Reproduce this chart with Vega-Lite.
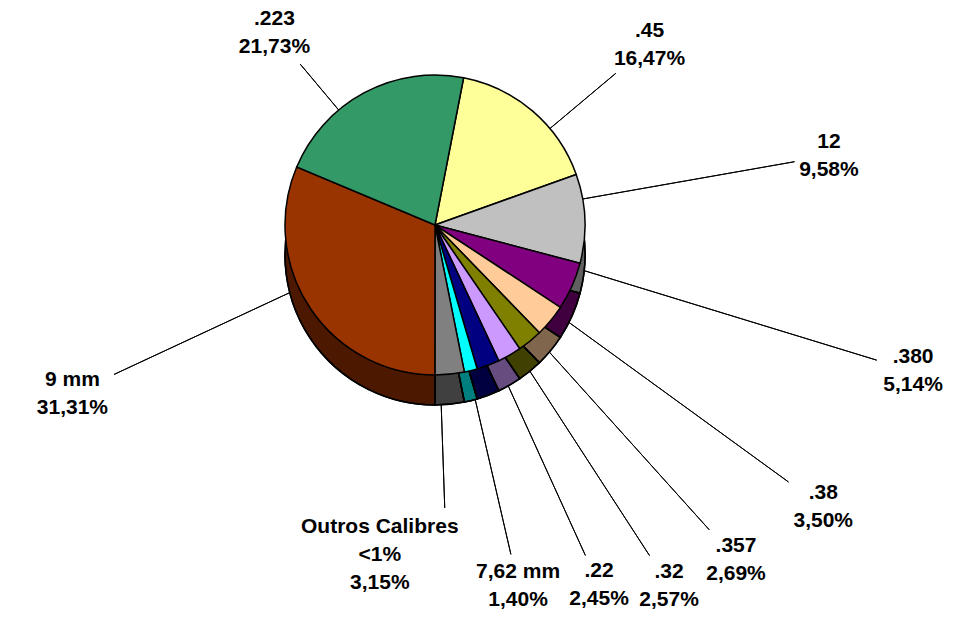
{
  "$schema": "https://vega.github.io/schema/vega-lite/v6.json",
  "width": 870,
  "height": 450,
  "autosize": {"type": "none"},
  "padding": {"left": 0, "top": 0, "right": 98, "bottom": 175},
  "background": "white",
  "config": {"view": {"stroke": null}},
  "data": {"values": [
    {"calibre": ".45", "pct": 16.47, "ordem": 1, "label": ".45\n16,47%"},
    {"calibre": "12", "pct": 9.58, "ordem": 2, "label": "12\n9,58%"},
    {"calibre": ".380", "pct": 5.14, "ordem": 3, "label": ".380\n5,14%"},
    {"calibre": ".38", "pct": 3.50, "ordem": 4, "label": ".38\n3,50%"},
    {"calibre": ".357", "pct": 2.69, "ordem": 5, "label": ".357\n2,69%"},
    {"calibre": ".32", "pct": 2.57, "ordem": 6, "label": ".32\n2,57%"},
    {"calibre": ".22", "pct": 2.45, "ordem": 7, "label": ".22\n2,45%"},
    {"calibre": "7,62 mm", "pct": 1.40, "ordem": 8, "label": "7,62 mm\n1,40%"},
    {"calibre": "Outros Calibres", "pct": 3.15, "ordem": 9, "label": "Outros Calibres\n<1%\n3,15%"},
    {"calibre": "9 mm", "pct": 31.31, "ordem": 10, "label": "9 mm\n31,31%"},
    {"calibre": ".223", "pct": 21.73, "ordem": 11, "label": ".223\n21,73%"}
  ]},
  "encoding": {
    "theta": {"field": "pct", "type": "quantitative", "stack": true, "scale": {"range": [0.192, 6.4752]}},
    "order": {"field": "ordem", "type": "quantitative"},
    "detail": {"field": "calibre", "type": "nominal"}
  },
  "layer": [
    {"mark": {"type": "arc", "radius": 236, "innerRadius": 100, "padAngle": 3.1416, "thetaOffset": 0.1632, "theta2Offset": 0.1632, "stroke": "black", "strokeWidth": 1, "fillOpacity": 0},
     "encoding": {"strokeOpacity": {"condition": {"test": "datum.calibre === '.45'", "value": 1}, "value": 0}}},
    {"mark": {"type": "arc", "radius": 365, "innerRadius": 100, "padAngle": 3.1416, "thetaOffset": -0.1314, "theta2Offset": -0.1314, "stroke": "black", "strokeWidth": 1, "fillOpacity": 0},
     "encoding": {"strokeOpacity": {"condition": {"test": "datum.calibre === '12'", "value": 1}, "value": 0}}},
    {"mark": {"type": "arc", "radius": 462, "innerRadius": 100, "padAngle": 3.1416, "thetaOffset": -0.1227, "theta2Offset": -0.1227, "stroke": "black", "strokeWidth": 1, "fillOpacity": 0},
     "encoding": {"strokeOpacity": {"condition": {"test": "datum.calibre === '.380'", "value": 1}, "value": 0}}},
    {"mark": {"type": "arc", "radius": 437, "innerRadius": 100, "padAngle": 3.1416, "thetaOffset": -0.0625, "theta2Offset": -0.0625, "stroke": "black", "strokeWidth": 1, "fillOpacity": 0},
     "encoding": {"strokeOpacity": {"condition": {"test": "datum.calibre === '.38'", "value": 1}, "value": 0}}},
    {"mark": {"type": "arc", "radius": 410, "innerRadius": 100, "padAngle": 3.1416, "thetaOffset": -0.0475, "theta2Offset": -0.0475, "stroke": "black", "strokeWidth": 1, "fillOpacity": 0},
     "encoding": {"strokeOpacity": {"condition": {"test": "datum.calibre === '.357'", "value": 1}, "value": 0}}},
    {"mark": {"type": "arc", "radius": 394, "innerRadius": 100, "padAngle": 3.1416, "thetaOffset": -0.0557, "theta2Offset": -0.0557, "stroke": "black", "strokeWidth": 1, "fillOpacity": 0},
     "encoding": {"strokeOpacity": {"condition": {"test": "datum.calibre === '.32'", "value": 1}, "value": 0}}},
    {"mark": {"type": "arc", "radius": 363, "innerRadius": 100, "padAngle": 3.1416, "thetaOffset": -0.0649, "theta2Offset": -0.0649, "stroke": "black", "strokeWidth": 1, "fillOpacity": 0},
     "encoding": {"strokeOpacity": {"condition": {"test": "datum.calibre === '.22'", "value": 1}, "value": 0}}},
    {"mark": {"type": "arc", "radius": 338, "innerRadius": 100, "padAngle": 3.1416, "thetaOffset": 0.0148, "theta2Offset": 0.0148, "stroke": "black", "strokeWidth": 1, "fillOpacity": 0},
     "encoding": {"strokeOpacity": {"condition": {"test": "datum.calibre === '7,62 mm'", "value": 1}, "value": 0}}},
    {"mark": {"type": "arc", "radius": 283, "innerRadius": 100, "padAngle": 3.1416, "thetaOffset": 0.0639, "theta2Offset": 0.0639, "stroke": "black", "strokeWidth": 1, "fillOpacity": 0},
     "encoding": {"strokeOpacity": {"condition": {"test": "datum.calibre === 'Outros Calibres'", "value": 1}, "value": 0}}},
    {"mark": {"type": "arc", "radius": 354, "innerRadius": 100, "padAngle": 3.1416, "thetaOffset": 0.1506, "theta2Offset": 0.1506, "stroke": "black", "strokeWidth": 1, "fillOpacity": 0},
     "encoding": {"strokeOpacity": {"condition": {"test": "datum.calibre === '9 mm'", "value": 1}, "value": 0}}},
    {"mark": {"type": "arc", "radius": 210, "innerRadius": 100, "padAngle": 3.1416, "thetaOffset": -0.2066, "theta2Offset": -0.2066, "stroke": "black", "strokeWidth": 1, "fillOpacity": 0},
     "encoding": {"strokeOpacity": {"condition": {"test": "datum.calibre === '.223'", "value": 1}, "value": 0}}},
    {"mark": {"type": "arc", "radius": 150, "yOffset": 30, "stroke": "black", "strokeWidth": 1.5},
     "encoding": {"color": {"field": "calibre", "type": "nominal", "legend": null,
       "scale": {"domain": [".45", "12", ".380", ".38", ".357", ".32", ".22", "7,62 mm", "Outros Calibres", "9 mm", ".223"],
                 "range": ["#FFFF99", "#C0C0C0", "#800080", "#FFCC99", "#808000", "#CC99FF", "#000080", "#00FFFF", "#808080", "#993300", "#339966"]}}}},
    {"mark": {"type": "arc", "radius": 150, "yOffset": 30, "fill": "black", "fillOpacity": 0.5, "stroke": "black", "strokeWidth": 1.5}},
    {"mark": {"type": "arc", "radius": 150, "stroke": "black", "strokeWidth": 1.5},
     "encoding": {"color": {"field": "calibre", "type": "nominal", "legend": null}}},
    {"mark": {"type": "text", "radius": 280, "thetaOffset": 0.1632, "dy": -14, "font": "Liberation Sans", "fontWeight": "bold", "fontSize": 21, "lineHeight": 28, "lineBreak": "\n", "align": "center", "baseline": "middle", "color": "black"},
     "encoding": {"text": {"field": "label", "type": "nominal"}, "opacity": {"condition": {"test": "datum.calibre === '.45'", "value": 1}, "value": 0}}},
    {"mark": {"type": "text", "radius": 400, "thetaOffset": -0.1314, "dy": -14, "font": "Liberation Sans", "fontWeight": "bold", "fontSize": 21, "lineHeight": 28, "lineBreak": "\n", "align": "center", "baseline": "middle", "color": "black"},
     "encoding": {"text": {"field": "label", "type": "nominal"}, "opacity": {"condition": {"test": "datum.calibre === '12'", "value": 1}, "value": 0}}},
    {"mark": {"type": "text", "radius": 500, "thetaOffset": -0.1227, "dy": -14, "font": "Liberation Sans", "fontWeight": "bold", "fontSize": 21, "lineHeight": 28, "lineBreak": "\n", "align": "center", "baseline": "middle", "color": "black"},
     "encoding": {"text": {"field": "label", "type": "nominal"}, "opacity": {"condition": {"test": "datum.calibre === '.380'", "value": 1}, "value": 0}}},
    {"mark": {"type": "text", "radius": 480, "thetaOffset": -0.0625, "dy": -14, "font": "Liberation Sans", "fontWeight": "bold", "fontSize": 21, "lineHeight": 28, "lineBreak": "\n", "align": "center", "baseline": "middle", "color": "black"},
     "encoding": {"text": {"field": "label", "type": "nominal"}, "opacity": {"condition": {"test": "datum.calibre === '.38'", "value": 1}, "value": 0}}},
    {"mark": {"type": "text", "radius": 450, "thetaOffset": -0.0475, "dy": -14, "font": "Liberation Sans", "fontWeight": "bold", "fontSize": 21, "lineHeight": 28, "lineBreak": "\n", "align": "center", "baseline": "middle", "color": "black"},
     "encoding": {"text": {"field": "label", "type": "nominal"}, "opacity": {"condition": {"test": "datum.calibre === '.357'", "value": 1}, "value": 0}}},
    {"mark": {"type": "text", "radius": 430, "thetaOffset": -0.0557, "dy": -14, "font": "Liberation Sans", "fontWeight": "bold", "fontSize": 21, "lineHeight": 28, "lineBreak": "\n", "align": "center", "baseline": "middle", "color": "black"},
     "encoding": {"text": {"field": "label", "type": "nominal"}, "opacity": {"condition": {"test": "datum.calibre === '.32'", "value": 1}, "value": 0}}},
    {"mark": {"type": "text", "radius": 396, "thetaOffset": -0.0649, "dy": -14, "font": "Liberation Sans", "fontWeight": "bold", "fontSize": 21, "lineHeight": 28, "lineBreak": "\n", "align": "center", "baseline": "middle", "color": "black"},
     "encoding": {"text": {"field": "label", "type": "nominal"}, "opacity": {"condition": {"test": "datum.calibre === '.22'", "value": 1}, "value": 0}}},
    {"mark": {"type": "text", "radius": 370, "thetaOffset": 0.0148, "dy": -14, "font": "Liberation Sans", "fontWeight": "bold", "fontSize": 21, "lineHeight": 28, "lineBreak": "\n", "align": "center", "baseline": "middle", "color": "black"},
     "encoding": {"text": {"field": "label", "type": "nominal"}, "opacity": {"condition": {"test": "datum.calibre === '7,62 mm'", "value": 1}, "value": 0}}},
    {"mark": {"type": "text", "radius": 335, "thetaOffset": 0.2639, "dy": -28, "font": "Liberation Sans", "fontWeight": "bold", "fontSize": 21, "lineHeight": 28, "lineBreak": "\n", "align": "center", "baseline": "middle", "color": "black"},
     "encoding": {"text": {"field": "label", "type": "nominal"}, "opacity": {"condition": {"test": "datum.calibre === 'Outros Calibres'", "value": 1}, "value": 0}}},
    {"mark": {"type": "text", "radius": 400, "thetaOffset": 0.1506, "dy": -14, "font": "Liberation Sans", "fontWeight": "bold", "fontSize": 21, "lineHeight": 28, "lineBreak": "\n", "align": "center", "baseline": "middle", "color": "black"},
     "encoding": {"text": {"field": "label", "type": "nominal"}, "opacity": {"condition": {"test": "datum.calibre === '9 mm'", "value": 1}, "value": 0}}},
    {"mark": {"type": "text", "radius": 250, "thetaOffset": -0.2066, "dy": -14, "font": "Liberation Sans", "fontWeight": "bold", "fontSize": 21, "lineHeight": 28, "lineBreak": "\n", "align": "center", "baseline": "middle", "color": "black"},
     "encoding": {"text": {"field": "label", "type": "nominal"}, "opacity": {"condition": {"test": "datum.calibre === '.223'", "value": 1}, "value": 0}}}
  ]
}
